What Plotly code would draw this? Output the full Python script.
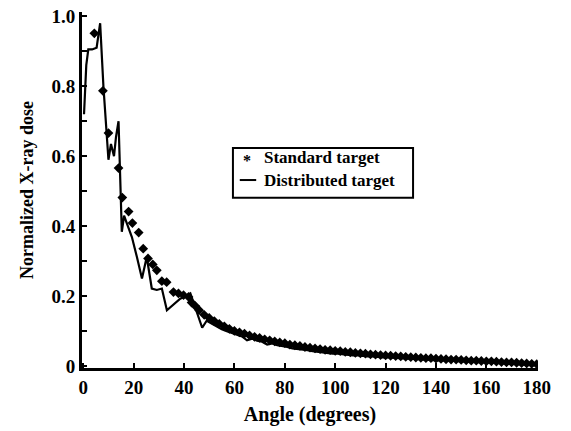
import plotly.graph_objects as go

# ---- data ----
std_angle = [4.4, 7.8, 10, 14, 15.5, 18, 19.5, 22, 23.8, 25.7, 27.6, 29.2, 31.2, 33.1, 35.8, 37.8,
             39.8, 41.8, 43, 44.5, 46, 48, 50, 52, 54, 56, 58, 60, 62, 64, 66, 68, 70, 72, 74, 76,
             78, 80, 82, 84, 86, 88, 90, 92, 94, 96, 98, 100, 102, 104, 106, 108, 110, 112, 114,
             116, 118, 120, 122, 124, 126, 128, 130, 132, 134, 136, 138, 140, 142, 144, 146, 148,
             150, 152, 154, 156, 158, 160, 162, 164, 166, 168, 170, 172, 174, 176, 178, 180]
std_dose = [0.951, 0.787, 0.666, 0.566, 0.482, 0.442, 0.409, 0.382, 0.336, 0.308, 0.291, 0.274,
            0.243, 0.240, 0.212, 0.208, 0.203, 0.198, 0.182, 0.172, 0.160, 0.147, 0.138, 0.129,
            0.121, 0.114, 0.107, 0.101, 0.097, 0.093, 0.088, 0.084, 0.081, 0.077, 0.074, 0.071,
            0.068, 0.066, 0.062, 0.060, 0.058, 0.055, 0.053, 0.051, 0.049, 0.047, 0.046, 0.044,
            0.043, 0.041, 0.040, 0.038, 0.037, 0.036, 0.034, 0.033, 0.032, 0.031, 0.030, 0.029,
            0.028, 0.027, 0.026, 0.025, 0.024, 0.023, 0.023, 0.022, 0.021, 0.020, 0.019, 0.019,
            0.018, 0.017, 0.016, 0.016, 0.015, 0.014, 0.014, 0.013, 0.012, 0.011, 0.011, 0.010,
            0.009, 0.008, 0.007, 0.006]

dist_angle = [0.3, 1.2, 2.0, 3.5, 5.3, 6.7, 8.0, 9.2, 10.0, 11.0, 12.2, 13.0, 14.0, 15.3, 16.2,
              17.2, 19.3, 21.3, 23.3, 25.2, 27.2, 29.2, 31.2, 33.2, 35.5, 38.5, 40.5, 42.5, 44.4,
              46.4, 47.2, 49, 51, 53, 55, 57, 59, 61, 63, 65, 67, 69, 71, 73, 75, 77, 79, 81, 83,
              85, 87, 89, 91, 93, 95, 97, 99, 101, 103, 105, 107, 109, 111, 113, 115, 117, 119,
              121, 123, 125, 127, 129, 131, 133, 135, 137, 139, 141, 143, 145, 147, 149, 151, 153,
              155, 157, 159, 161, 163, 165, 167, 169, 171, 173, 175, 177, 179]
dist_dose = [0.72, 0.86, 0.905, 0.905, 0.91, 0.98, 0.80, 0.68, 0.59, 0.635, 0.60, 0.655, 0.70,
             0.384, 0.43, 0.41, 0.369, 0.312, 0.251, 0.312, 0.222, 0.218, 0.222, 0.160, 0.175,
             0.193, 0.200, 0.208, 0.169, 0.122, 0.110, 0.130, 0.122, 0.112, 0.106, 0.100, 0.095,
             0.090, 0.085, 0.074, 0.079, 0.073, 0.070, 0.062, 0.065, 0.060, 0.058, 0.055, 0.051,
             0.050, 0.047, 0.046, 0.043, 0.041, 0.040, 0.038, 0.036, 0.036, 0.034, 0.033, 0.031,
             0.031, 0.029, 0.028, 0.028, 0.026, 0.025, 0.025, 0.024, 0.023, 0.022, 0.022, 0.021,
             0.020, 0.019, 0.019, 0.018, 0.017, 0.017, 0.016, 0.015, 0.015, 0.014, 0.013, 0.013,
             0.012, 0.011, 0.011, 0.010, 0.009, 0.009, 0.008, 0.007, 0.006, 0.005, 0.004, 0.003]

x_ticks = [0, 20, 40, 60, 80, 100, 120, 140, 160, 180]
y_ticks = [0, 0.2, 0.4, 0.6, 0.8, 1.0]
y_labels = ["0", "0.2", "0.4", "0.6", "0.8", "1.0"]

FONT = "Liberation Serif"

fig = go.Figure()
fig.add_trace(go.Scatter(x=dist_angle, y=dist_dose, mode="lines", name="Distributed target",
                         line=dict(color="black", width=2.2), showlegend=False))
fig.add_trace(go.Scatter(x=std_angle, y=std_dose, mode="markers", name="Standard target",
                         marker=dict(symbol="diamond", size=7.5, color="black"), showlegend=False))

# manual legend (paper coordinates)
fig.add_shape(type="rect", xref="paper", yref="paper", x0=0.331, x1=0.726, y0=0.478, y1=0.618,
              line=dict(color="black", width=2), fillcolor="white")
fig.add_shape(type="line", xref="paper", yref="paper", x0=0.346, x1=0.382, y0=0.528, y1=0.528,
              line=dict(color="black", width=2))
fig.add_annotation(xref="paper", yref="paper", x=0.362, y=0.584, text="<b>*</b>", showarrow=False,
                   font=dict(family=FONT, size=16, color="black"), xanchor="center", yanchor="middle")
fig.add_annotation(xref="paper", yref="paper", x=0.395, y=0.590, text="<b>Standard target</b>",
                   showarrow=False, font=dict(family=FONT, size=17, color="black"),
                   xanchor="left", yanchor="middle")
fig.add_annotation(xref="paper", yref="paper", x=0.395, y=0.528, text="<b>Distributed target</b>",
                   showarrow=False, font=dict(family=FONT, size=17, color="black"),
                   xanchor="left", yanchor="middle")

fig.update_layout(
    width=571, height=431,
    margin=dict(l=82, r=33, t=12, b=63),
    paper_bgcolor="white", plot_bgcolor="white",
    font=dict(family=FONT, color="black"),
)
fig.update_xaxes(range=[-0.5, 180.5], tickvals=x_ticks, ticks="inside", ticklen=5, tickwidth=2,
                 tickcolor="black", showline=True, linewidth=3, linecolor="black", showgrid=False,
                 zeroline=False, automargin=False,
                 tickfont=dict(family=FONT, size=19, weight="bold"),
                 title=dict(text="<b>Angle (degrees)</b>", font=dict(family=FONT, size=20), standoff=11))
fig.update_yaxes(range=[-0.005, 1.012], tickvals=y_ticks, ticktext=y_labels, ticks="inside",
                 ticklen=5, tickwidth=2, tickcolor="black", showline=True, linewidth=3,
                 linecolor="black", showgrid=False, zeroline=False, automargin=False,
                 minor=dict(dtick=0.1, tick0=0, ticks="inside", ticklen=5, tickwidth=2, tickcolor="black"),
                 tickfont=dict(family=FONT, size=19, weight="bold"),
                 title=dict(text="<b>Normalized X-ray dose</b>", font=dict(family=FONT, size=18), standoff=14))

# remove the page's default 8px body margin so the figure fills the window exactly
fig.write_html("out.html", config={"displayModeBar": False},
               post_script="document.body.style.margin='0';document.body.style.overflow='hidden';")
